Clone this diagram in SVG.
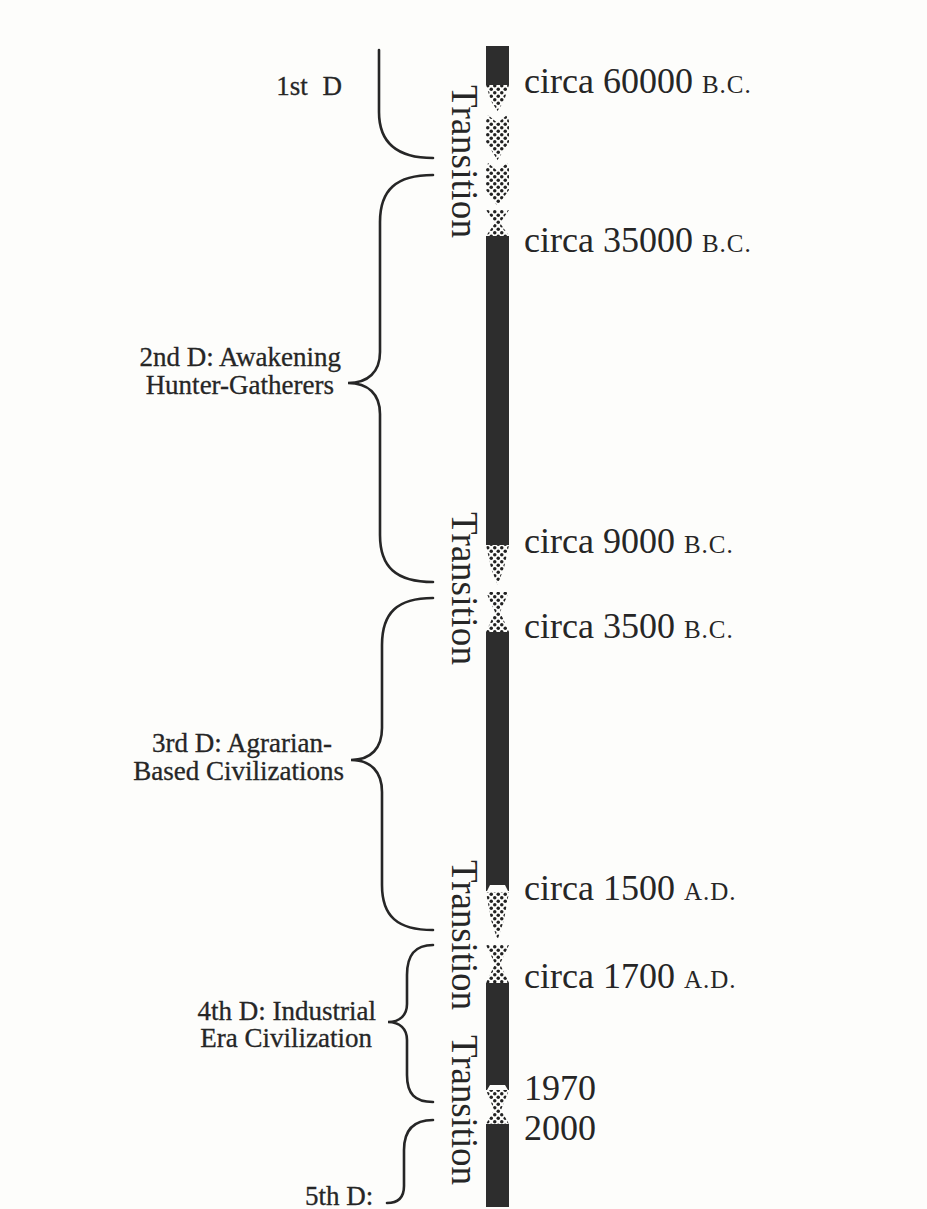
<svg xmlns="http://www.w3.org/2000/svg" width="927" height="1209" viewBox="0 0 927 1209">
<style>
.lbl{font-family:"Liberation Serif","Times New Roman",serif;font-size:27px;fill:#262626;stroke:#262626;stroke-width:0.3}
.date{font-family:"Liberation Serif","Times New Roman",serif;font-size:36px;fill:#262626}
.sc{font-size:25px;letter-spacing:1px}
.tr{font-family:"Liberation Serif","Times New Roman",serif;font-size:37px;fill:#262626}
.brace{fill:none;stroke:#262626;stroke-width:2.6;stroke-linecap:round}
.bar{fill:#2d2d2d}
.dot{fill:url(#dots)}
</style>
<defs>
<pattern id="dots" width="7" height="7" patternUnits="userSpaceOnUse" x="486" y="0">
<rect width="7" height="7" fill="#fdfdfb"/>
<circle cx="1.75" cy="1.75" r="1.75" fill="#222"/>
<circle cx="5.25" cy="5.25" r="1.75" fill="#222"/>
</pattern>
</defs>
<rect width="927" height="1209" fill="#fdfdfb"/>

<g id="timeline-bar">
<rect class="bar" x="486" y="46" width="23" height="39"/>
<polygon class="dot" points="486,85 509,85 504,101 497.5,111 491,101"/>
<polygon class="dot" points="488,115 497.5,123 507,115 509,121 509,142 497.5,160 486,142 486,121"/>
<polygon class="dot" points="488,163 497.5,171 507,163 509,169 509,190 497.5,206 486,190 486,169"/>
<polygon class="dot" points="486,210 509,210 500,223 509,236 486,236 495,223"/>
<rect class="bar" x="486" y="236" width="23" height="309"/>
<polygon class="dot" points="486,545 509,545 504,568 497.5,585 491,568"/>
<polygon class="dot" points="486,592 509,592 500,612 509,632 486,632 495,612"/>
<rect class="bar" x="486" y="632" width="23" height="259"/>
<polygon points="490,885 505,885 508,891 487,891" fill="#fdfdfb"/>
<polygon class="dot" points="486,892 509,892 504,920 497.5,940 491,920"/>
<polygon class="dot" points="486,945 509,945 500,964 509,983 486,983 495,964"/>
<rect class="bar" x="486" y="983" width="23" height="107"/>
<polygon points="490,1085 505,1085 508,1090 487,1090" fill="#fdfdfb"/>
<polygon class="dot" points="486,1090 509,1090 501,1110 509,1124 486,1124 494,1110"/>
<rect class="bar" x="486" y="1124" width="23" height="83"/>
</g>

<g id="transition-labels">
<text class="tr" transform="translate(452,85) rotate(90)" textLength="153">Transition</text>
<text class="tr" transform="translate(452,512) rotate(90)" textLength="153">Transition</text>
<text class="tr" transform="translate(452,860) rotate(90)" textLength="150">Transition</text>
<text class="tr" transform="translate(452,1035) rotate(90)" textLength="150">Transition</text>
</g>

<g id="date-labels">
<text class="date" x="524" y="93">circa 60000 <tspan class="sc">B.C.</tspan></text>
<text class="date" x="524" y="252">circa 35000 <tspan class="sc">B.C.</tspan></text>
<text class="date" x="524" y="553">circa 9000 <tspan class="sc">B.C.</tspan></text>
<text class="date" x="524" y="638">circa 3500 <tspan class="sc">B.C.</tspan></text>
<text class="date" x="524" y="900">circa 1500 <tspan class="sc">A.D.</tspan></text>
<text class="date" x="524" y="988">circa 1700 <tspan class="sc">A.D.</tspan></text>
<text class="date" x="524" y="1100">1970</text>
<text class="date" x="524" y="1140">2000</text>
</g>

<g id="connectors">
<path class="brace" d="M379,50 L379,112 C379,142 396,158 433,158"/>
<path class="brace" d="M433,175 C396,175 380,190 380,222 L380,352 C380,372 368,383 348,383 C368,383 380,394 380,414 L380,535 C380,567 396,582 433,582"/>
<path class="brace" d="M433,598 C397,598 382,613 382,645 L382,728 C382,748 371,760 351,760 C371,760 382,772 382,792 L382,885 C382,916 397,930 433,930"/>
<path class="brace" d="M433,945 C415,945 407,955 407,975 L407,1004 C407,1015 400,1022 388,1022 C400,1022 407,1029 407,1040 L407,1075 C407,1094 415,1102 433,1102"/>
<path class="brace" d="M433,1120 C414,1120 404,1130 404,1150 L404,1186 C404,1198 398,1203 387,1203"/>
</g>

<g id="era-labels">
<text class="lbl" x="342" y="95" text-anchor="end" style="word-spacing:8px">1st D</text>
<text class="lbl" x="341" y="366" text-anchor="end">2nd D: Awakening</text>
<text class="lbl" x="334" y="394" text-anchor="end">Hunter-Gatherers</text>
<text class="lbl" x="332" y="752" text-anchor="end">3rd D: Agrarian-</text>
<text class="lbl" x="344" y="780" text-anchor="end">Based Civilizations</text>
<text class="lbl" x="376" y="1020" text-anchor="end">4th D: Industrial</text>
<text class="lbl" x="372" y="1047" text-anchor="end">Era Civilization</text>
<text class="lbl" x="305" y="1205">5th D:</text>
</g>
</svg>
